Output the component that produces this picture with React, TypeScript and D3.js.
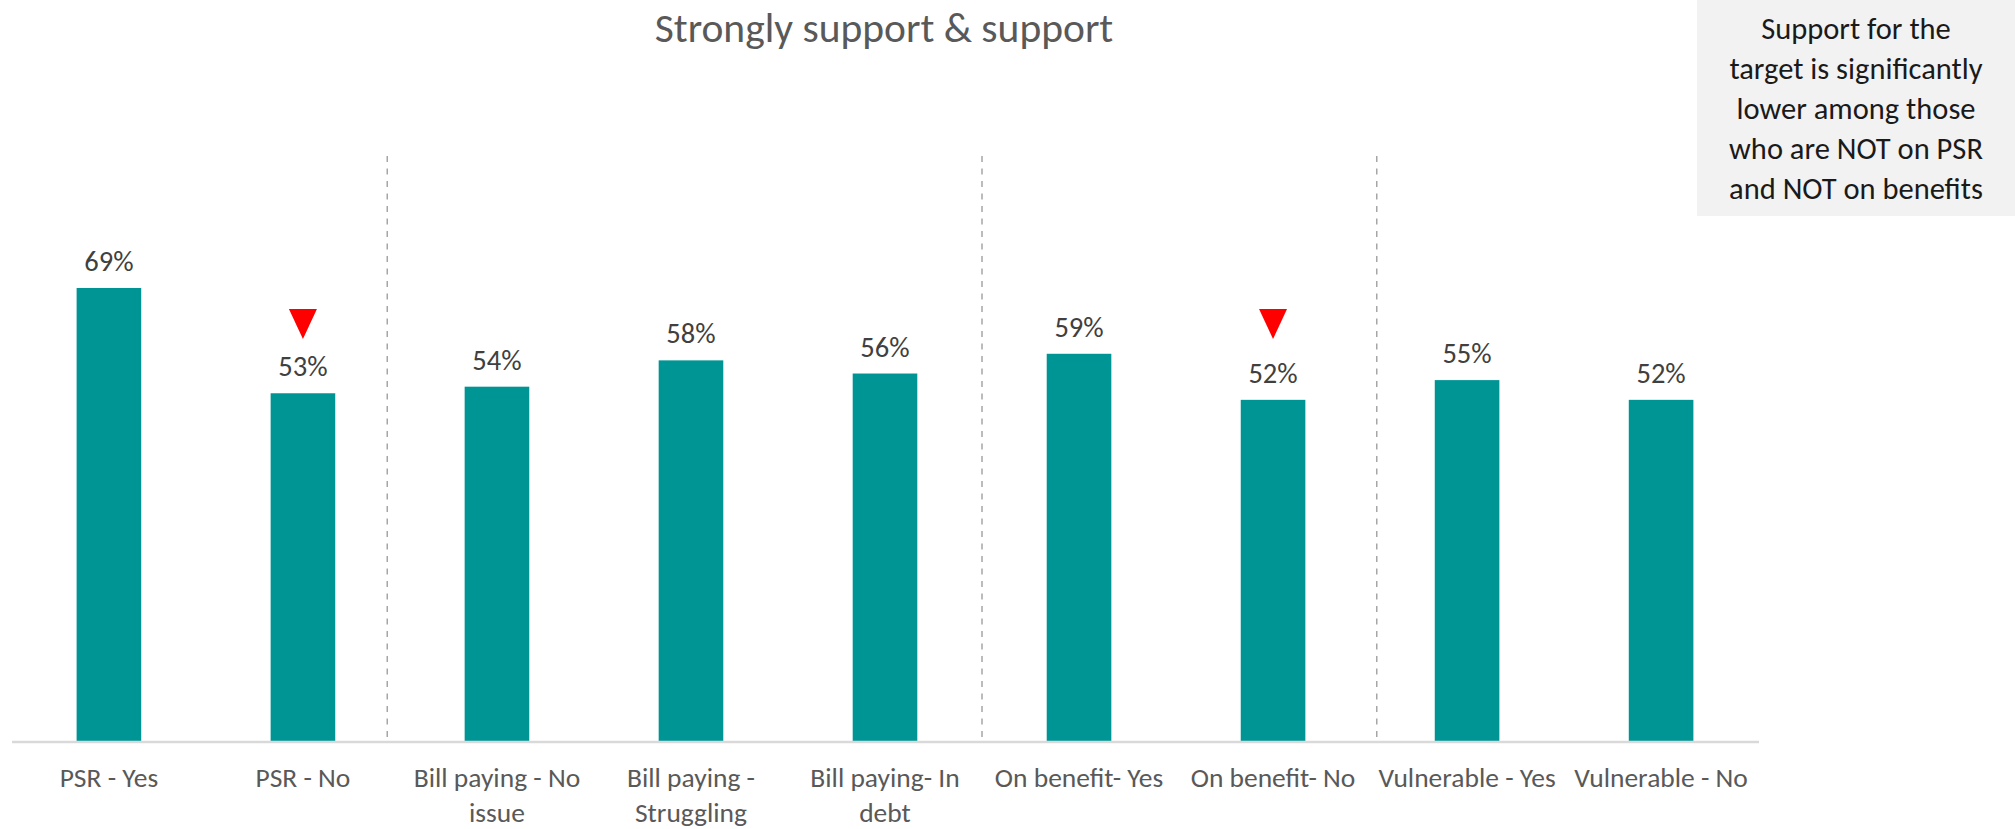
import React, { useEffect } from "react";
import * as d3 from "d3";

const categories = [
  "PSR - Yes",
  "PSR - No",
  "Bill paying - No\nissue",
  "Bill paying -\nStruggling",
  "Bill paying- In\ndebt",
  "On benefit- Yes",
  "On benefit- No",
  "Vulnerable - Yes",
  "Vulnerable - No",
];
const values = [0.69, 0.53, 0.54, 0.58, 0.56, 0.59, 0.52, 0.55, 0.52];
const significantLower = [false, true, false, false, false, false, true, false, false];
const separatorsAfter = [1, 4, 6];
const separatorOffsets = [-12.7, 0, 6.7];
const title = "Strongly support & support";
const noteLines = [
  "Support for the",
  "target is significantly",
  "lower among those",
  "who are NOT on PSR",
  "and NOT on benefits",
];

const W = 2015;
const H = 829;
const FONT = "Carlito, Calibri, 'Lato Light', Lato, 'Noto Sans', sans-serif";
const FONT_REG = "Carlito, Calibri, Lato, 'Noto Sans', sans-serif";

export default function App() {
  useEffect(() => {
    document.body.style.margin = "0";
  }, []);

  const x = d3
    .scaleBand<string>()
    .domain(categories)
    .range([12, 1758])
    .paddingInner(0.667)
    .paddingOuter(0.333);
  const y = d3.scaleLinear().domain([0, 1]).range([742, 84]);
  const bw = x.bandwidth();
  const step = x.step();
  const fmt = d3.format(".0%");

  return (
    <svg width={W} height={H} style={{ display: "block" }} fontFamily={FONT}>
      <rect x={0} y={0} width={W} height={H} fill="#ffffff" />
      <text x={884} y={42} textAnchor="middle" fontSize={41.5} fontWeight={300} fill="#595959">
        {title}
      </text>

      {separatorsAfter.map((i, k) => {
        const sx = (x(categories[i]) as number) + bw / 2 + step / 2 + separatorOffsets[k];
        return (
          <line
            key={"sep" + i}
            x1={sx}
            x2={sx}
            y1={156}
            y2={y(0)}
            stroke="#a6a6a6"
            strokeWidth={1.5}
            strokeDasharray="6,6.5"
          />
        );
      })}

      {categories.map((c, i) => (
        <rect
          key={"bar" + i}
          x={x(c)}
          y={y(values[i])}
          width={bw}
          height={y(0) - y(values[i])}
          fill="#009595"
        />
      ))}

      <line x1={12} x2={1759} y1={y(0)} y2={y(0)} stroke="#d9d9d9" strokeWidth={2.5} />

      {categories.map((c, i) => (
        <text
          key={"val" + i}
          x={(x(c) as number) + bw / 2}
          y={y(values[i]) - 17}
          textAnchor="middle"
          fontSize={28.5}
          fontWeight={300}
          fill="#404040"
        >
          {fmt(values[i])}
        </text>
      ))}

      {categories.map((c, i) =>
        significantLower[i] ? (
          <path
            key={"tri" + i}
            d={d3.line()([
              [(x(c) as number) + bw / 2 - 14, 309],
              [(x(c) as number) + bw / 2 + 14, 309],
              [(x(c) as number) + bw / 2, 339],
            ]) + "Z"}
            fill="#ff0000"
          />
        ) : null
      )}

      {categories.map((c, i) =>
        c.split("\n").map((line, j) => (
          <text
            key={"cat" + i + "-" + j}
            x={(x(c) as number) + bw / 2}
            y={787 + j * 35}
            textAnchor="middle"
            fontSize={27.5}
            fontWeight={300}
            fill="#595959"
          >
            {line}
          </text>
        ))
      )}

      <rect x={1697} y={0} width={318} height={216} fill="#f2f2f2" />
      {noteLines.map((t, i) => (
        <text
          key={"note" + i}
          x={1856}
          y={39 + i * 40}
          textAnchor="middle"
          fontSize={30.5}
          fontFamily={FONT_REG}
          fill="#1a1a1a"
        >
          {t}
        </text>
      ))}
    </svg>
  );
}
